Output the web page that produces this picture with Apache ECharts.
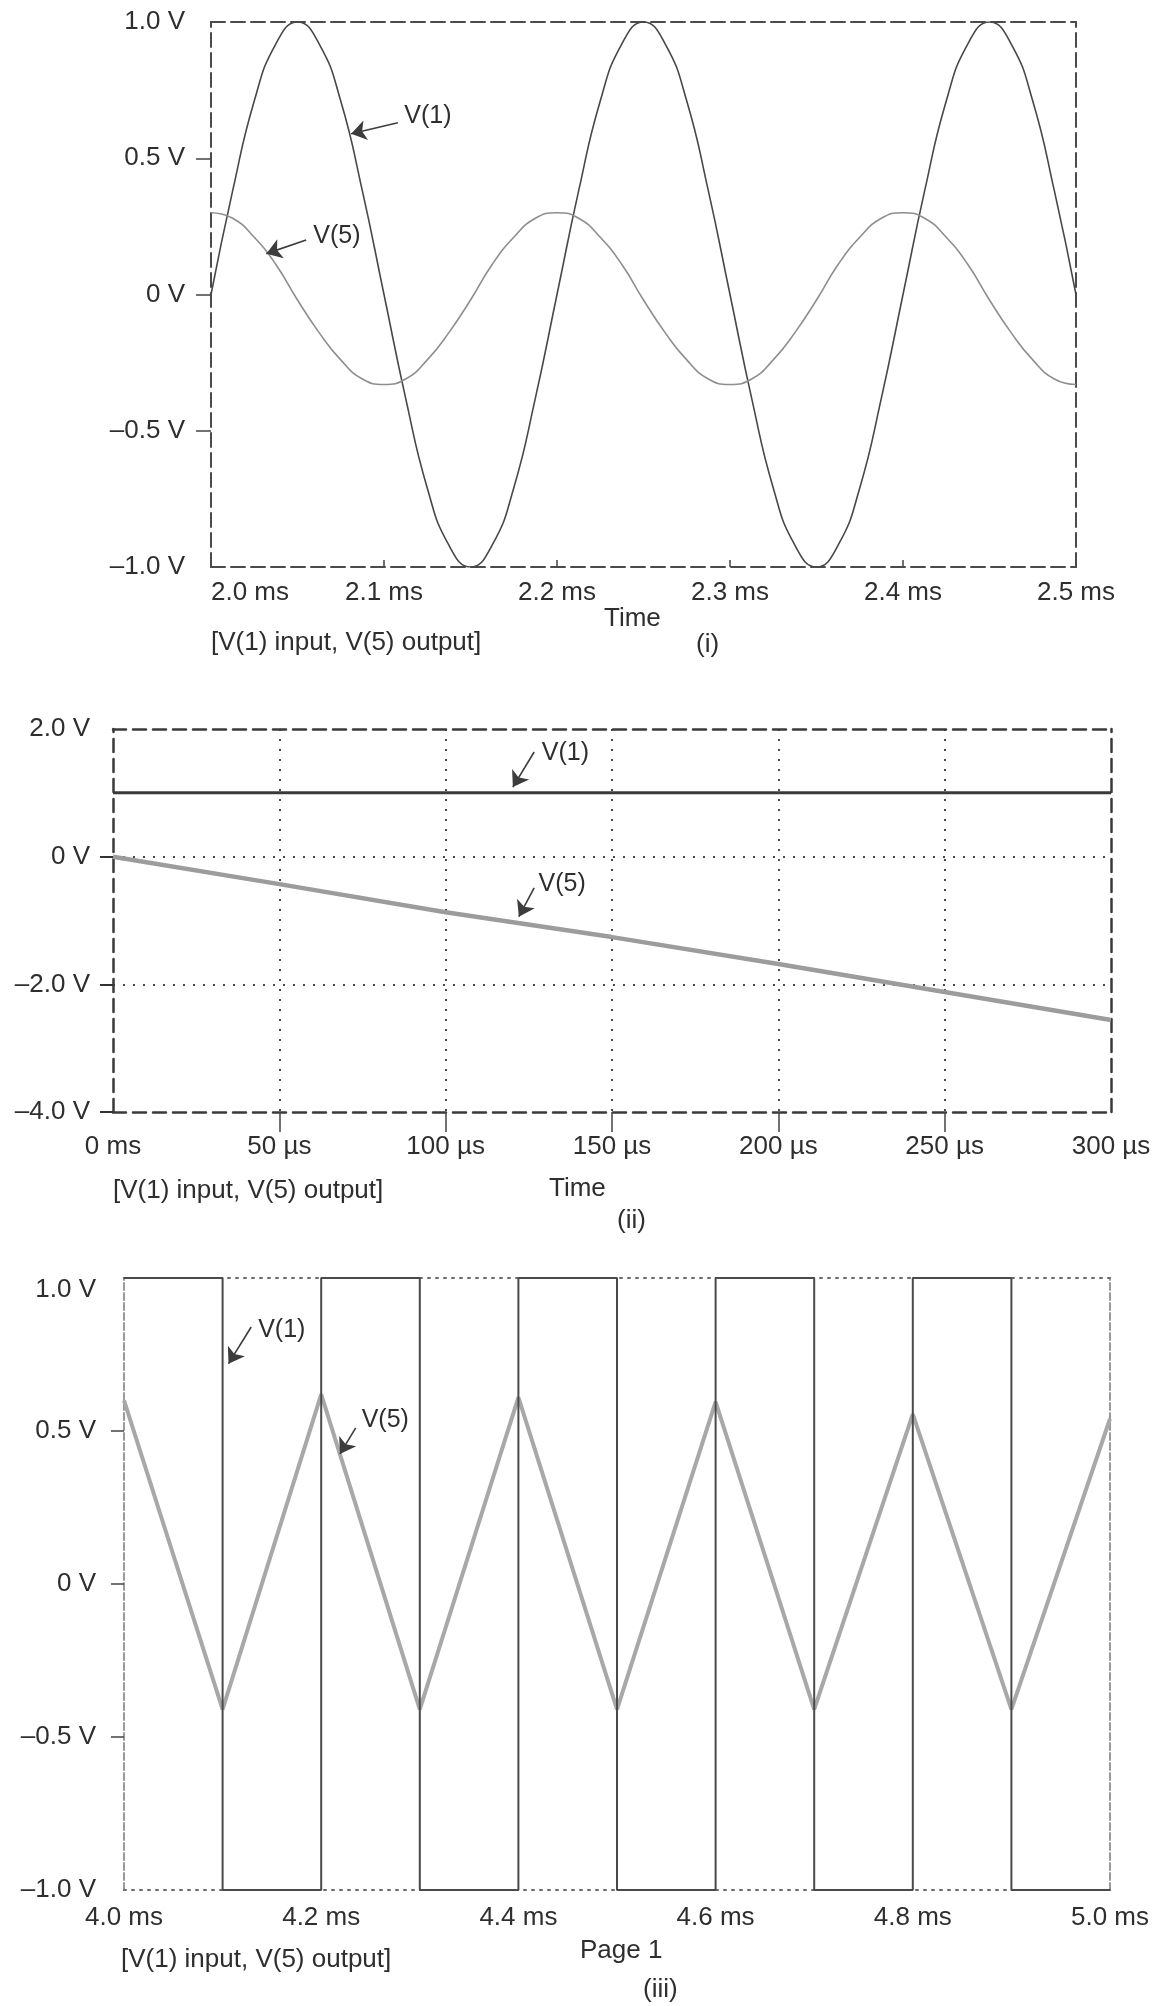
<!DOCTYPE html>
<html>
<head>
<meta charset="utf-8">
<title>V(1) input, V(5) output</title>
<script src="https://cdn.jsdelivr.net/npm/echarts@6.0.0/dist/echarts.min.js"></script>
<style>
  html, body { margin: 0; padding: 0; background: #ffffff; }
  #chart { width: 1152px; height: 2006px; }
</style>
</head>
<body>
<div id="chart"></div>
<script>
// (i) sine input, read every 0.0125 ms
var sineTime = [2.0, 2.0125, 2.025, 2.0375, 2.05, 2.0625, 2.075, 2.0875, 2.1, 2.1125, 2.125, 2.1375, 2.15, 2.1625, 2.175, 2.1875,
                2.2, 2.2125, 2.225, 2.2375, 2.25, 2.2625, 2.275, 2.2875, 2.3, 2.3125, 2.325, 2.3375, 2.35, 2.3625, 2.375, 2.3875,
                2.4, 2.4125, 2.425, 2.4375, 2.45, 2.4625, 2.475, 2.4875, 2.5];
var sineV1 = [0, 0.38, 0.71, 0.92, 1.0, 0.92, 0.71, 0.38, 0, -0.38, -0.71, -0.92, -1.0, -0.92, -0.71, -0.38,
              0, 0.38, 0.71, 0.92, 1.0, 0.92, 0.71, 0.38, 0, -0.38, -0.71, -0.92, -1.0, -0.92, -0.71, -0.38,
              0, 0.38, 0.71, 0.92, 1.0, 0.92, 0.71, 0.38, 0];
var sineV5 = [0.30, 0.28, 0.21, 0.11, -0.02, -0.14, -0.24, -0.31, -0.33, -0.31, -0.24, -0.14, -0.02, 0.11, 0.21, 0.28,
              0.30, 0.28, 0.21, 0.11, -0.02, -0.14, -0.24, -0.31, -0.33, -0.31, -0.24, -0.14, -0.02, 0.11, 0.21, 0.28,
              0.30, 0.28, 0.21, 0.11, -0.02, -0.14, -0.24, -0.31, -0.33];
var sineXTicks = [2.0, 2.1, 2.2, 2.3, 2.4, 2.5];
var sineXText = ['2.0 ms', '2.1 ms', '2.2 ms', '2.3 ms', '2.4 ms', '2.5 ms'];
var sineYTicks = [-1, -0.5, 0, 0.5, 1];
var sineYText = ['\u20131.0 V', '\u20130.5 V', '0 V', '0.5 V', '1.0 V'];

// (ii) step input, in microseconds
var stepTime = [0, 50, 100, 150, 200, 250, 300];
var stepV1 = [1.0, 1.0, 1.0, 1.0, 1.0, 1.0, 1.0];
var stepV5 = [0, -0.43, -0.87, -1.26, -1.68, -2.12, -2.56];
var stepXText = ['0 ms', '50 \u00b5s', '100 \u00b5s', '150 \u00b5s', '200 \u00b5s', '250 \u00b5s', '300 \u00b5s'];
var stepYTicks = [-4, -2, 0, 2];
var stepYText = ['\u20134.0 V', '\u20132.0 V', '0 V', '2.0 V'];

// (iii) square input, triangle output
var squareTime = [4.0, 4.1, 4.1, 4.2, 4.2, 4.3, 4.3, 4.4, 4.4, 4.5, 4.5, 4.6, 4.6, 4.7, 4.7, 4.8, 4.8, 4.9, 4.9, 5.0];
var squareV1 = [1, 1, -1, -1, 1, 1, -1, -1, 1, 1, -1, -1, 1, 1, -1, -1, 1, 1, -1, -1];
var triTime = [4.0, 4.1, 4.2, 4.3, 4.4, 4.5, 4.6, 4.7, 4.8, 4.9, 5.0];
var triV5 = [0.60, -0.41, 0.62, -0.41, 0.61, -0.41, 0.595, -0.41, 0.555, -0.41, 0.54];
var squareXTicks = [4.0, 4.2, 4.4, 4.6, 4.8, 5.0];
var squareXText = ['4.0 ms', '4.2 ms', '4.4 ms', '4.6 ms', '4.8 ms', '5.0 ms'];

// arrow labels: [text position, arrow start, arrow tip]
var sineNotes = [
    ['V(1)', [2.1254, 0.655], [2.108, 0.63], [2.081, 0.59]],
    ['V(5)', [2.0728, 0.215], [2.055, 0.20], [2.032, 0.15]]
];
var stepNotes = [
    ['V(1)', [136, 1.63], [126.6, 1.64], [120.2, 1.09]],
    ['V(5)', [135, -0.43], [126.6, -0.49], [122, -0.94]]
];
var squareNotes = [
    ['V(1)', [4.160, 0.83], [4.129, 0.84], [4.106, 0.72]],
    ['V(5)', [4.265, 0.536], [4.235, 0.51], [4.219, 0.425]]
];

var FONT = '"Liberation Sans", Arial, Helvetica, sans-serif';
var INK = '#2e2e2e';

function zip(xs, ys) {
    return xs.map(function (x, i) { return [x, ys[i]]; });
}

function lookup(values, texts) {
    return function (v) {
        for (var i = 0; i < values.length; i++) {
            if (Math.abs(values[i] - v) < 1e-6) return texts[i];
        }
        return '';
    };
}

// axis that only draws a border line of a grid
function edge(gridIndex, position, min, max, lineStyle) {
    return {
        type: 'value', gridIndex: gridIndex, position: position, min: min, max: max,
        axisLine: { show: true, onZero: false, lineStyle: lineStyle },
        axisTick: { show: false }, axisLabel: { show: false }, splitLine: { show: false }
    };
}

function notes(list) {
    return {
        markLine: {
            silent: true, symbol: ['none', 'arrow'], symbolSize: 15,
            lineStyle: { color: '#3c3c3c', width: 1.6, type: 'solid' },
            label: { show: false },
            data: list.map(function (n) { return [{ coord: n[2] }, { coord: n[3] }]; })
        },
        markPoint: {
            silent: true, symbol: 'circle', symbolSize: 1,
            itemStyle: { color: 'rgba(0,0,0,0)' },
            label: { show: true, position: 'inside', color: INK, fontSize: 25, fontFamily: FONT,
                     formatter: function (p) { return p.name; } },
            data: list.map(function (n) { return { name: n[0], coord: n[1] }; })
        }
    };
}

var dash1 = { color: '#4a4a4a', width: 2, type: [14, 6] };
var dash2 = { color: '#3a3a3a', width: 2.5, type: [13, 7] };
var dotGrid = { color: '#4a4a4a', width: 2, type: [2, 8] };
var dot3 = { color: '#6a6a6a', width: 2, type: [2, 6] };
var side3 = { color: '#9a9a9a', width: 2, type: [7, 3] };

var labelBase = { color: INK, fontSize: 26, fontFamily: FONT };

var chartDom = document.getElementById('chart');
var myChart = echarts.init(chartDom, null, { renderer: 'canvas' });

var option = {
    backgroundColor: '#ffffff',
    animation: false,
    textStyle: { fontFamily: FONT },
    grid: [
        { left: 211, right: 76, top: 22, height: 545, outerBoundsMode: 'none' },
        { left: 113, right: 41, top: 729, height: 383, outerBoundsMode: 'none' },
        { left: 124, right: 42, top: 1278, height: 612, outerBoundsMode: 'none' }
    ],
    xAxis: [
        {
            type: 'value', gridIndex: 0, position: 'bottom', min: 2.0, max: 2.5, interval: 0.1,
            axisLine: { show: true, onZero: false, lineStyle: dash1 },
            axisTick: { show: true, inside: true, length: 7, customValues: [2.1, 2.2, 2.3, 2.4],
                        lineStyle: { color: '#444', width: 1.5 } },
            axisLabel: Object.assign({ margin: 13, alignMinLabel: 'left', formatter: lookup(sineXTicks, sineXText) }, labelBase),
            splitLine: { show: false }
        },
        edge(0, 'top', 2.0, 2.5, dash1),
        {
            type: 'value', gridIndex: 1, position: 'bottom', min: 0, max: 300, interval: 50,
            axisLine: { show: true, onZero: false, lineStyle: dash2 },
            axisTick: { show: true, length: 20, customValues: [50, 100, 150, 200, 250],
                        lineStyle: { color: '#444', width: 1.5 } },
            axisLabel: Object.assign({ margin: 22, formatter: lookup(stepTime, stepXText) }, labelBase),
            splitLine: { show: true, showMinLine: true, showMaxLine: true, lineStyle: dotGrid }
        },
        edge(1, 'top', 0, 300, dash2),
        {
            type: 'value', gridIndex: 2, position: 'bottom', min: 4.0, max: 5.0, interval: 0.2,
            axisLine: { show: true, onZero: false, lineStyle: dot3 },
            axisTick: { show: false },
            axisLabel: Object.assign({ margin: 15, formatter: lookup(squareXTicks, squareXText) }, labelBase),
            splitLine: { show: false }
        },
        edge(2, 'top', 4.0, 5.0, dot3)
    ],
    yAxis: [
        {
            type: 'value', gridIndex: 0, position: 'left', min: -1, max: 1, interval: 0.5,
            axisLine: { show: true, onZero: false, lineStyle: dash1 },
            axisTick: { show: true, length: 15, customValues: [-0.5, 0, 0.5], lineStyle: { color: '#444', width: 1.5 } },
            axisLabel: Object.assign({ margin: 26, formatter: lookup(sineYTicks, sineYText) }, labelBase),
            splitLine: { show: false }
        },
        edge(0, 'right', -1, 1, dash1),
        {
            type: 'value', gridIndex: 1, position: 'left', min: -4, max: 2, interval: 2,
            axisLine: { show: true, onZero: false, lineStyle: dash2 },
            axisTick: { show: true, length: 13, customValues: [-4, -2, 0], lineStyle: { color: '#333', width: 2 } },
            axisLabel: Object.assign({ margin: 23, formatter: lookup(stepYTicks, stepYText) }, labelBase),
            splitLine: { show: true, showMinLine: false, showMaxLine: true, lineStyle: dotGrid }
        },
        edge(1, 'right', -4, 2, dash2),
        {
            type: 'value', gridIndex: 2, position: 'left', min: -1, max: 1, interval: 0.5,
            axisLine: { show: true, onZero: false, lineStyle: side3 },
            axisTick: { show: true, length: 13, customValues: [-0.5, 0, 0.5], lineStyle: { color: '#444', width: 1.5 } },
            axisLabel: Object.assign({
                margin: 28,
                formatter: function (v) {
                    var t = lookup(sineYTicks, sineYText)(v);
                    // the top label sits a little below its line in the original
                    return v === 1 ? '{low|' + t + '}' : t;
                },
                rich: { low: { fontSize: 26, fontFamily: FONT, color: INK, padding: [24, 0, 0, 0] } }
            }, labelBase),
            splitLine: { show: false }
        },
        edge(2, 'right', -1, 1, side3)
    ],
    series: [
        Object.assign({
            name: 'V(1) sine', type: 'line', xAxisIndex: 0, yAxisIndex: 0,
            data: zip(sineTime, sineV1), smooth: true, showSymbol: false,
            lineStyle: { color: '#484848', width: 1.6 }
        }, notes(sineNotes)),
        {
            name: 'V(5) sine', type: 'line', xAxisIndex: 0, yAxisIndex: 0,
            data: zip(sineTime, sineV5), smooth: true, showSymbol: false,
            lineStyle: { color: '#8e8e8e', width: 1.6 }
        },
        Object.assign({
            name: 'V(1) step', type: 'line', xAxisIndex: 2, yAxisIndex: 2,
            data: zip(stepTime, stepV1), showSymbol: false,
            lineStyle: { color: '#3a3a3a', width: 3 }
        }, notes(stepNotes)),
        {
            name: 'V(5) ramp', type: 'line', xAxisIndex: 2, yAxisIndex: 2,
            data: zip(stepTime, stepV5), showSymbol: false,
            lineStyle: { color: '#9c9c9c', width: 4.5 }
        },
        {
            name: 'V(5) triangle', type: 'line', xAxisIndex: 4, yAxisIndex: 4,
            data: zip(triTime, triV5), showSymbol: false,
            lineStyle: { color: '#a8a8a8', width: 4 }
        },
        Object.assign({
            name: 'V(1) square', type: 'line', xAxisIndex: 4, yAxisIndex: 4,
            data: zip(squareTime, squareV1), showSymbol: false,
            lineStyle: { color: '#4a4a4a', width: 2 }
        }, notes(squareNotes))
    ],
    graphic: [
        { type: 'text', left: 604, top: 606, style: { text: 'Time', font: '26px ' + FONT, fill: INK } },
        { type: 'text', left: 696, top: 632, style: { text: '(i)', font: '26px ' + FONT, fill: INK } },
        { type: 'text', left: 211, top: 630, style: { text: '[V(1) input, V(5) output]', font: '26px ' + FONT, fill: INK } },

        { type: 'text', left: 113, top: 1178, style: { text: '[V(1) input, V(5) output]', font: '26px ' + FONT, fill: INK } },
        { type: 'text', left: 549, top: 1176, style: { text: 'Time', font: '26px ' + FONT, fill: INK } },
        { type: 'text', left: 617, top: 1208, style: { text: '(ii)', font: '26px ' + FONT, fill: INK } },

        { type: 'text', left: 121, top: 1947, style: { text: '[V(1) input, V(5) output]', font: '26px ' + FONT, fill: INK } },
        { type: 'text', left: 580, top: 1938, style: { text: 'Page 1', font: '26px ' + FONT, fill: INK } },
        { type: 'text', left: 643, top: 1977, style: { text: '(iii)', font: '26px ' + FONT, fill: INK } }
    ]
};

myChart.setOption(option);
window.addEventListener('resize', function () {
    myChart.resize();
});
</script>
</body>
</html>
